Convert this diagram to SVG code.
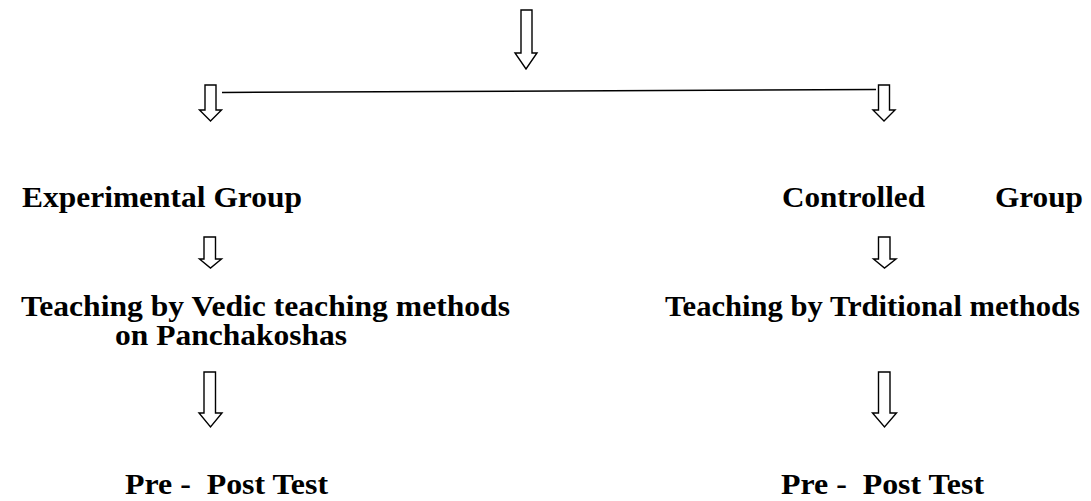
<svg xmlns="http://www.w3.org/2000/svg" width="1091" height="501" viewBox="0 0 1091 501">
<style>
.t{font-family:'Liberation Serif','Times New Roman',Tinos,serif;font-weight:700;font-size:30px;fill:#000}
.a{fill:#fff;stroke:#000;stroke-width:1.4;stroke-linejoin:miter}
.c{stroke:#000;stroke-width:1.5;fill:none}
</style>
<rect width="1091" height="501" fill="#fff"/>
<g id="connectors">
<path class="a" d="M521,10 H532 V53 H537 L526,69 L515,53 H521 Z"/>
<line class="c" x1="222" y1="92.5" x2="876" y2="89.5"/>
<path class="a" d="M205,85 H216 V110 H221.5 L210.5,121 L199.5,110 H205 Z"/>
<path class="a" d="M878.5,85 H889.5 V110 H895 L884,121 L873,110 H878.5 Z"/>
<path class="a" d="M204,237 H215.5 V259 H221.5 L210.5,268 L199.5,259 H204 Z"/>
<path class="a" d="M878.5,237 H890 V259 H896 L884.5,268 L873.5,259 H878.5 Z"/>
<path class="a" d="M204,372 H215.5 V413 H222 L210.5,427 L199,413 H204 Z"/>
<path class="a" d="M878.5,372 H890 V413 H896.5 L884.5,427 L872.5,413 H878.5 Z"/>
</g>
<g id="experimental-group"><text class="t" x="22" y="207" textLength="280" lengthAdjust="spacingAndGlyphs">Experimental Group</text></g>
<g id="controlled-group"><text class="t" y="207"><tspan x="782" textLength="143" lengthAdjust="spacingAndGlyphs">Controlled</tspan><tspan x="995" textLength="88" lengthAdjust="spacingAndGlyphs">Group</tspan></text></g>
<g id="vedic-teaching"><text class="t" x="21" y="316" textLength="489" lengthAdjust="spacingAndGlyphs">Teaching by Vedic teaching methods</text><text class="t" x="115" y="345" textLength="232" lengthAdjust="spacingAndGlyphs">on Panchakoshas</text></g>
<g id="traditional-teaching"><text class="t" x="665" y="316" textLength="415" lengthAdjust="spacingAndGlyphs">Teaching by Trditional methods</text></g>
<g id="pre-post-left"><text class="t" x="125" y="494" textLength="203" lengthAdjust="spacingAndGlyphs" xml:space="preserve">Pre -  Post Test</text></g>
<g id="pre-post-right"><text class="t" x="781" y="494" textLength="203" lengthAdjust="spacingAndGlyphs" xml:space="preserve">Pre -  Post Test</text></g>
</svg>
